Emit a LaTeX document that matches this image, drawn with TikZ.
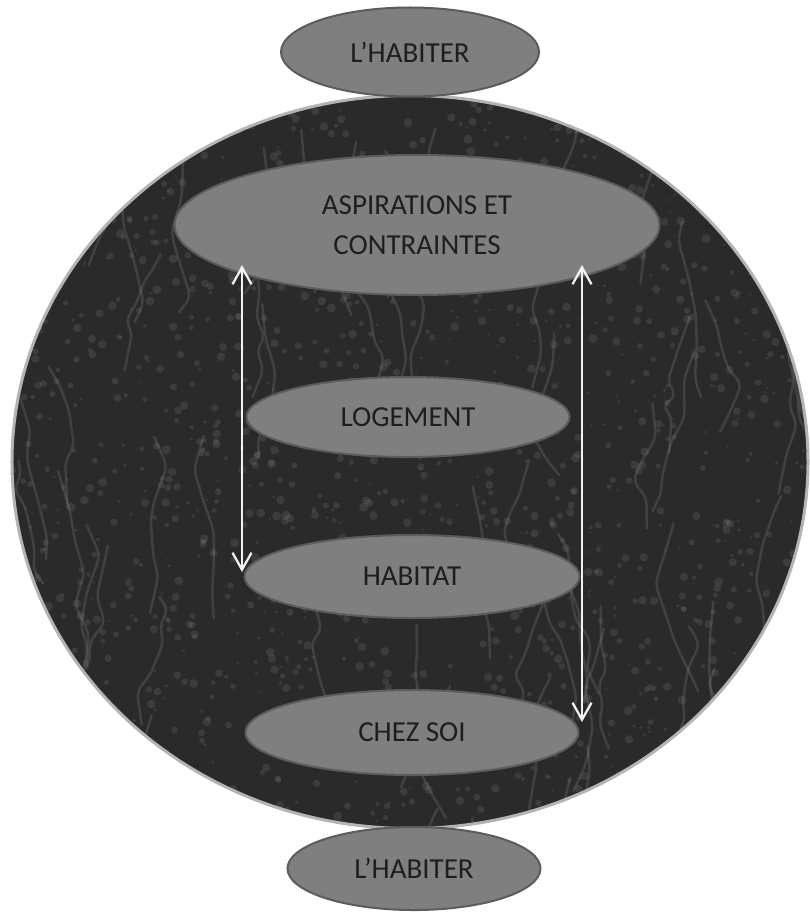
\documentclass[tikz,border=0pt]{standalone}
\usepackage{fontspec}
\setmainfont{Carlito}
\usepackage{tikz}
\usepackage{xcolor}
\usetikzlibrary{positioning,shapes.geometric,arrows.meta}

\definecolor{oval-fill}{HTML}{7F7F7F}
\definecolor{oval-rim}{HTML}{5C5C5C}
\definecolor{world-fill}{HTML}{2A2A2A}
\definecolor{world-rim}{HTML}{B4B4B4}
\definecolor{label-ink}{HTML}{1E1E1E}

\begin{document}
\begin{tikzpicture}
[
x=0.2mm, y=-0.2mm,
oval-a/.style={ellipse, draw=oval-rim, fill=oval-fill, line width=0.4mm, inner sep=0pt, outer sep=0pt,
               text=label-ink, font=\fontsize{16.5}{22.8}\selectfont, align=center},
world-a/.style={ellipse, fill=world-fill, minimum width=159.2mm, minimum height=146.6mm, inner sep=0pt, outer sep=0pt},
mottle-a/.style={fill=gray!75, opacity=0.16},
vein-a/.style={draw=gray!85, opacity=0.22, line width=0.5mm, line cap=round, rounded corners=1.5mm},
link-a/.style={draw=white!90!gray, line width=0.45mm, {Straight Barb[length=3.4mm,width=3.8mm]}-{Straight Barb[length=3.4mm,width=3.8mm]}}
]
\useasboundingbox (0,0) rectangle (809,912);

% marble disc
\node (world) [world-a] at (410,462) {};
\begin{scope}
\clip (world.center) ellipse [x radius=79.6mm, y radius=73.3mm];
\pgfmathsetseed{17}
\foreach \i in {1,...,1600}
  \fill[mottle-a] ({rand*400+410},{rand*370+462}) circle [radius={rnd*0.7mm+0.2mm}];
\foreach \i in {1,...,70}
  \draw[vein-a] ({rand*400+410},{rand*370+462}) -- ++({rand*14},{rnd*30+10}) -- ++({rand*14},{rnd*30+10})
                -- ++({rand*14},{rnd*30+10}) -- ++({rand*14},{rnd*30+10}) -- ++({rand*14},{rnd*30+10})
                -- ++({rand*14},{rnd*30+10});
\end{scope}
\draw[draw=world-rim, line width=0.6mm] (world.center) ellipse [x radius=79.6mm, y radius=73.3mm];

% ovals
\node (oval-top)      [oval-a, minimum width=51.6mm, minimum height=17.8mm] at (410,52) {L'HABITER};
\node (oval-aspir)    [oval-a, minimum width=97.0mm, minimum height=28.0mm] at (417,225) {ASPIRATIONS ET\\CONTRAINTES};
\node (oval-logement) [oval-a, minimum width=64.6mm, minimum height=16.0mm, below = 16.4mm of oval-aspir, xshift=-1.8mm] {LOGEMENT};
\node (oval-habitat)  [oval-a, minimum width=67.0mm, minimum height=16.6mm, below = 15.6mm of oval-logement, xshift=0.8mm] {HABITAT};
\node (oval-chez)     [oval-a, minimum width=66.6mm, minimum height=17.0mm, below = 14.4mm of oval-habitat] {CHEZ SOI};
\node (oval-bottom)   [oval-a, minimum width=50.6mm, minimum height=16.6mm, below = 10.4mm of oval-chez, xshift=0.4mm] {L'HABITER};

% arrows
\coordinate (link-l-top) at (242,265);
\coordinate (link-l-bot) at (242,572);
\coordinate (link-r-top) at (582,265);
\coordinate (link-r-bot) at (582,722);
\draw[link-a] (link-l-top) -- (link-l-bot);
\draw[link-a] (link-r-top) -- (link-r-bot);
\end{tikzpicture}
\end{document}
